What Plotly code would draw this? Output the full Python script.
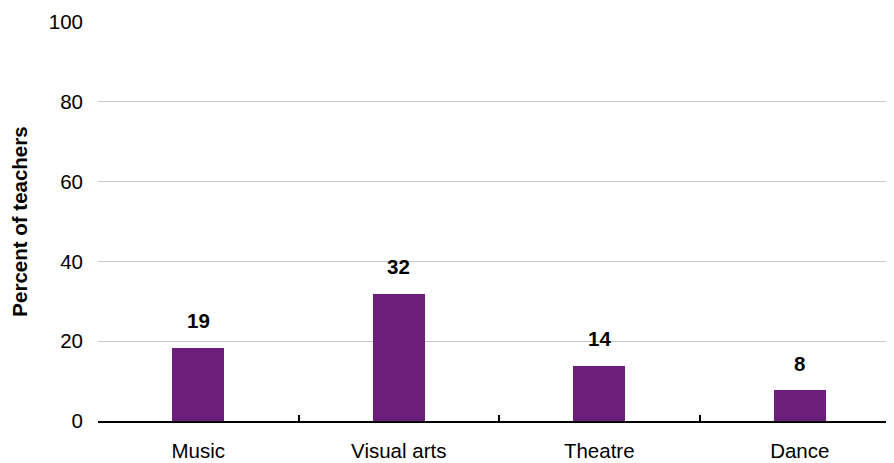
import plotly.graph_objects as go

categories = ["Music", "Visual arts", "Theatre", "Dance"]
values = [18.3, 31.9, 13.8, 7.7]
labels = ["19", "32", "14", "8"]
y_ticks = [0, 20, 40, 60, 80, 100]

FONT = "Liberation Sans, Arial"

fig = go.Figure()
fig.add_trace(go.Bar(
    x=categories, y=values, width=0.26,
    marker=dict(color="#6B1F7B", line=dict(width=0)),
    hoverinfo="skip",
))

for c, v, t in zip(categories, values, labels):
    fig.add_annotation(x=c, y=v, text="<b>%s</b>" % t, showarrow=False,
                       yanchor="middle", yshift=27,
                       font=dict(family=FONT, size=20.5, color="#000000"))

fig.update_layout(
    width=886, height=455,
    margin=dict(l=90, r=0, t=14, b=42),
    paper_bgcolor="white", plot_bgcolor="white",
    showlegend=False,
    font=dict(family=FONT, size=20.5, color="#000000"),
    bargap=0,
)
fig.update_xaxes(
    range=[-0.5, 3.47],
    showline=True, linecolor="#000000", linewidth=1.5,
    ticks="inside", tickson="boundaries", ticklen=6, tickcolor="#000000", tickwidth=1.5,
    showgrid=False, ticklabelstandoff=11,
    tickfont=dict(size=20.5),
)
fig.update_yaxes(
    range=[0, 100], tickvals=y_ticks,
    showgrid=True, gridcolor="#C6C6C6", gridwidth=1.3,
    showline=False, zeroline=False, ticks="",
    ticklabelstandoff=14,
    tickfont=dict(size=20.5),
    title=dict(text="<b>Percent of teachers</b>", font=dict(size=20.5), standoff=18),
)

fig.write_html("out.html")
